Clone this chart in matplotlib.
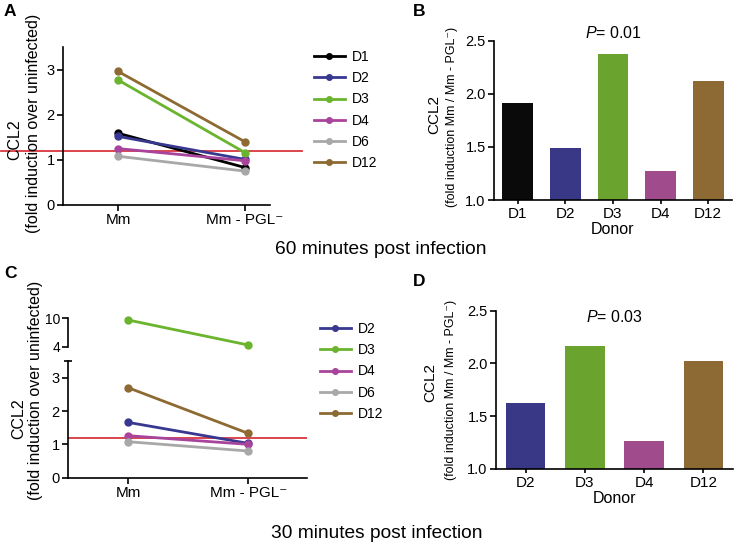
import matplotlib
matplotlib.use('Agg')
import matplotlib.pyplot as plt
from matplotlib.lines import Line2D

plt.rcParams['font.family'] = ['Liberation Sans', 'DejaVu Sans']
plt.rcParams['mathtext.fontset'] = 'custom'
plt.rcParams['mathtext.rm'] = 'Liberation Sans'
plt.rcParams['mathtext.it'] = 'Liberation Sans:italic'
plt.rcParams['axes.linewidth'] = 1.2
plt.rcParams['xtick.major.width'] = 1.2
plt.rcParams['ytick.major.width'] = 1.2

# ---- data ----
conditions = ['Mm', 'Mm - PGL⁻']
colors = {'D1': '#000000', 'D2': '#383890', 'D3': '#6ab42e', 'D4': '#a9449c',
          'D6': '#a8a8a8', 'D12': '#8e6a33'}
bar_colors = {'D1': '#0a0a0a', 'D2': '#383887', 'D3': '#6aa42e', 'D4': '#9f4b8c',
              'D12': '#8d6a34'}
baseline = 1.2

# 60 min (panel A): [Mm, Mm - PGL-]
donors_60 = ['D1', 'D2', 'D3', 'D4', 'D6', 'D12']
d1_60 = [1.59, 0.83]
d2_60 = [1.52, 1.01]
d3_60 = [2.77, 1.16]
d4_60 = [1.25, 0.98]
d6_60 = [1.08, 0.75]
d12_60 = [2.96, 1.40]

# 60 min ratio (panel B)
ratio_donors_60 = ['D1', 'D2', 'D3', 'D4', 'D12']
ratio_60 = [1.91, 1.49, 2.375, 1.27, 2.12]

# 30 min (panel C)
donors_30 = ['D2', 'D3', 'D4', 'D6', 'D12']
d2_30 = [1.66, 1.03]
d3_30 = [9.64, 4.36]
d4_30 = [1.26, 1.00]
d6_30 = [1.08, 0.80]
d12_30 = [2.70, 1.33]

# 30 min ratio (panel D)
ratio_donors_30 = ['D2', 'D3', 'D4', 'D12']
ratio_30 = [1.63, 2.17, 1.265, 2.02]

W, H = 735, 544
fig = plt.figure(figsize=(W / 100, H / 100), dpi=100)


def box(l, r, t, b):
    return [l / W, 1 - b / H, (r - l) / W, (b - t) / H]


def style(ax, fs=10.5):
    for s in ['top', 'right']:
        ax.spines[s].set_visible(False)
    ax.tick_params(labelsize=fs, length=4, pad=2)


def lines(ax, names, vals):
    for n, v in zip(names, vals):
        ax.plot(range(len(v)), v, '-o', color=colors[n], lw=2, ms=5,
                clip_on=False, zorder=3)


def legend(ax, names, x, y):
    handles = [Line2D([], [], color=colors[n], marker='o', lw=2, ms=4) for n in names]
    ax.legend(handles, names, loc='upper left', bbox_to_anchor=(x / W, 1 - y / H),
              bbox_transform=fig.transFigure, frameon=False, fontsize=10,
              handlelength=2.2, handletextpad=0.5, labelspacing=0.52,
              borderaxespad=0, borderpad=0)


def ylabel2(x1, y1, x2, y2, s1, s2, fs1, fs2):
    fig.text(x1 / W, 1 - y1 / H, 'CCL2', rotation=90, ha='center', va='center', fontsize=fs1)
    fig.text(x2 / W, 1 - y2 / H, s2, rotation=90, ha='center', va='center', fontsize=fs2)


# ---- A ----
axA = fig.add_axes(box(63, 270, 47, 205))
style(axA)
lines(axA, donors_60, [d1_60, d2_60, d3_60, d4_60, d6_60, d12_60])
axA.set_xlim(-0.433, 1.197)
axA.set_ylim(0, 3.5)
axA.set_yticks([0, 1, 2, 3])
axA.set_xticks([0, 1])
axA.set_xticklabels(conditions, fontsize=11)
axA.axhline(baseline, xmin=-0.3, xmax=1.155, color='#d9363e', lw=1.3,
            clip_on=False, zorder=2)
legend(axA, donors_60, 314, 50)
ylabel2(15, 140, 34, 123, 'CCL2', '(fold induction over uninfected)', 11.5, 11.5)

# ---- B ----
axB = fig.add_axes(box(494, 732, 40.7, 200))
style(axB)
axB.bar(ratio_donors_60, ratio_60, width=0.65, bottom=0,
        color=[bar_colors[d] for d in ratio_donors_60])
axB.set_xlim(-0.5, 4.5)
axB.set_ylim(1.0, 2.5)
axB.set_yticks([1.0, 1.5, 2.0, 2.5])
axB.set_yticklabels(['1.0', '1.5', '2.0', '2.5'])
axB.tick_params(axis='x', length=3, labelsize=11)
axB.set_xlabel('Donor', fontsize=11.5, labelpad=1)
axB.text(2, 2.57, '$\\mathit{P}$= 0.01', ha='center', va='center', fontsize=11.5)
ylabel2(434, 115, 452, 117, 'CCL2', '(fold induction Mm / Mm - PGL⁻)', 11, 9)

# ---- C ----
axC = fig.add_axes(box(68, 307, 361, 477.7))
style(axC)
lines(axC, ['D2', 'D4', 'D6', 'D12'], [d2_30, d4_30, d6_30, d12_30])
axC.set_xlim(-0.5, 1.49)
axC.set_ylim(0, 3.5)
axC.set_yticks([0, 1, 2, 3])
axC.set_yticks([3.5], minor=True)
axC.tick_params(axis='y', which='minor', length=6, width=1.2, direction='inout')
axC.set_xticks([0, 1])
axC.set_xticklabels(conditions, fontsize=11)
axC.axhline(baseline, color='#d9363e', lw=1.3, zorder=2)

axCu = fig.add_axes(box(68, 307, 318.3, 346.7))
for s in ['top', 'right', 'bottom']:
    axCu.spines[s].set_visible(False)
axCu.tick_params(labelsize=10, length=4, pad=1.5)
axCu.plot(range(2), d3_30, '-o', color=colors['D3'], lw=2, ms=5, clip_on=False, zorder=3)
axCu.set_xlim(-0.5, 1.49)
axCu.set_ylim(4, 10)
axCu.set_yticks([4, 10])
axCu.set_xticks([])
legend(axC, donors_30, 320, 322)
ylabel2(19, 419, 36, 390, 'CCL2', '(fold induction over uninfected)', 11.5, 11.5)

# ---- D ----
axD = fig.add_axes(box(496, 733, 310.7, 469))
style(axD)
axD.bar(ratio_donors_30, ratio_30, width=0.67, bottom=0,
        color=[bar_colors[d] for d in ratio_donors_30])
axD.set_xlim(-0.5, 3.5)
axD.set_ylim(1.0, 2.5)
axD.set_yticks([1.0, 1.5, 2.0, 2.5])
axD.set_yticklabels(['1.0', '1.5', '2.0', '2.5'])
axD.tick_params(axis='x', length=3, labelsize=11)
axD.set_xlabel('Donor', fontsize=11.5, labelpad=1)
axD.text(1.5, 2.44, '$\\mathit{P}$= 0.03', ha='center', va='center', fontsize=11.5)
ylabel2(430, 382, 451, 390, 'CCL2', '(fold induction Mm / Mm - PGL⁻)', 11, 9)

# ---- captions and panel letters ----
fig.text(381 / W, 1 - 249 / H, '60 minutes post infection', ha='center', va='center', fontsize=13.8)
fig.text(377 / W, 1 - 533 / H, '30 minutes post infection', ha='center', va='center', fontsize=13.8)
for letter, x, y in [('A', 4, 12), ('B', 413, 12), ('C', 4, 273), ('D', 413, 282)]:
    fig.text(x / W, 1 - y / H, letter, ha='left', va='center', fontsize=12.5, fontweight='bold')

fig.savefig('out.png', dpi=100)
